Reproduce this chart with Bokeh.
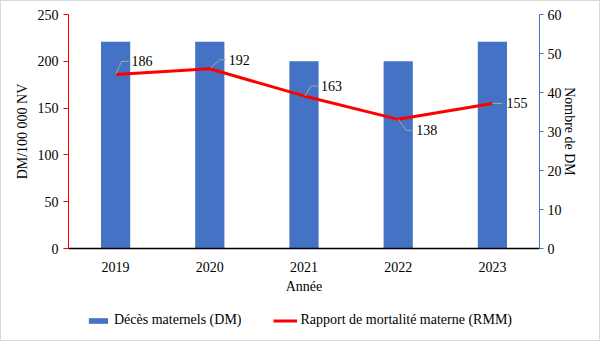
from bokeh.plotting import figure
from bokeh.layouts import column
from bokeh.models import (ColumnDataSource, Range1d, LinearAxis, FixedTicker,
                          Legend, LegendItem)
from bokeh.core.properties import value
from bokeh.embed import file_html
from bokeh.resources import INLINE

# ---- data ----
years = ["2019", "2020", "2021", "2022", "2023"]
deces_maternels = [53, 53, 48, 48, 53]          # Nombre de DM (right axis)
rmm = [186, 192, 163, 138, 155]                 # DM/100 000 NV (left axis)
left_ticks = [0, 50, 100, 150, 200, 250]
right_ticks = [0, 10, 20, 30, 40, 50, 60]
series_names = ["Décès maternels (DM)", "Rapport de mortalité materne (RMM)"]

FONT = "Liberation Serif"
FS = "14px"
BLUE = "#4472C4"
RED = "#FF0000"

xs = list(range(len(years)))
src = ColumnDataSource(dict(x=xs, dm=deces_maternels, rmm=rmm))

W = 598
MB_L, MB_R, MB_T, MB_B = 67, 60, 13, 53
FRAME_H = 234
H_MAIN = MB_T + FRAME_H + MB_B
H_LEG = 339 - H_MAIN

p = figure(width=W, height=H_MAIN, output_backend="svg", toolbar_location=None,
           x_range=Range1d(-0.5, len(years) - 0.5),
           y_range=Range1d(0, 250),
           min_border_left=MB_L, min_border_right=MB_R,
           min_border_top=MB_T, min_border_bottom=MB_B)
p.outline_line_color = None
p.xgrid.visible = False
p.ygrid.visible = False
p.background_fill_color = "white"
p.border_fill_color = "white"

p.extra_y_ranges = {"right": Range1d(0, 60)}

p.vbar(x="x", top="dm", width=0.31, source=src, y_range_name="right",
       fill_color=BLUE, line_color=None)
p.line(x="x", y="rmm", source=src, line_color=RED, line_width=3)

# leader lines + data labels (offsets in pixels, converted to data units)
frame_w = W - MB_L - MB_R
ux = len(years) / frame_w
uy = 250 / FRAME_H
leader_px = [
    [(0, 0), (6, 13), (13, 13)],
    [(1, 1), (10, 9), (16, 9)],
    [(1, 0), (7, 10), (14, 10)],
    [(0, 0), (8, -11), (14, -11)],
    [(0, 0), (10, 0)],
]
label_px = [(16, 13), (19, 9), (17, 10), (18, -11), (14, 0)]
lx, ly = [], []
for i, pts in enumerate(leader_px):
    lx.append([xs[i] + dx * ux for dx, dy in pts])
    ly.append([rmm[i] + dy * uy for dx, dy in pts])
p.multi_line(lx, ly, line_color="#A6A6A6", line_width=1)
p.text(x=[xs[i] + label_px[i][0] * ux for i in range(len(xs))],
       y=[rmm[i] + label_px[i][1] * uy for i in range(len(xs))],
       text=[str(v) for v in rmm],
       text_font=value(FONT), text_font_size=FS, text_color="#000000",
       text_align="left", text_baseline="middle")

# axes
xa = p.xaxis[0]
xa.ticker = FixedTicker(ticks=xs)
xa.major_label_overrides = {i: y for i, y in enumerate(years)}
xa.axis_label = "Année"
xa.axis_line_color = "#000000"
xa.axis_line_width = 1.5
xa.major_tick_line_color = None
xa.minor_tick_line_color = None
xa.major_label_standoff = 7
xa.axis_label_standoff = 4

ya = p.yaxis[0]
ya.ticker = FixedTicker(ticks=left_ticks)
ya.axis_label = "DM/100 000 NV"
ya.axis_line_color = RED
ya.major_tick_line_color = RED
ya.major_tick_out = 5
ya.major_tick_in = 0
ya.minor_tick_line_color = None
ya.major_label_standoff = 5
ya.axis_label_standoff = 5

ra = LinearAxis(y_range_name="right", ticker=FixedTicker(ticks=right_ticks),
                axis_label="Nombre de DM")
ra.axis_line_color = BLUE
ra.major_tick_line_color = BLUE
ra.major_tick_out = 4
ra.major_tick_in = 0
ra.minor_tick_line_color = None
ra.major_label_standoff = 4
ra.axis_label_standoff = -3
p.add_layout(ra, "right")

for ax in (xa, ya, ra):
    ax.major_label_text_font = FONT
    ax.major_label_text_font_size = FS
    ax.major_label_text_color = "#000000"
    ax.axis_label_text_font = FONT
    ax.axis_label_text_font_size = FS
    ax.axis_label_text_font_style = "normal"
    ax.axis_label_text_color = "#000000"

# legend strip (frame aligned with the chart frame)
lg = figure(width=W, height=H_LEG, output_backend="svg", toolbar_location=None,
            x_range=Range1d(0, 1), y_range=Range1d(0, 1),
            x_axis_type=None, y_axis_type=None,
            min_border_left=MB_L, min_border_right=MB_R,
            min_border_top=0, min_border_bottom=0)
lg.grid.visible = False
lg.outline_line_color = None
lg.background_fill_color = "white"
lg.border_fill_color = "white"
# legend proxies (not drawn themselves)
r_bar = lg.vbar(x=[5], top=[1], width=0.3, fill_color=BLUE, line_color=None,
                visible=False)
r_line = lg.line(x=[5, 6], y=[0, 0], line_color=RED, line_width=3,
                 visible=False)
legend = Legend(items=[LegendItem(label=series_names[0], renderers=[r_bar]),
                       LegendItem(label=series_names[1], renderers=[r_line])],
                orientation="horizontal", location=(18, 12),
                label_text_font=FONT, label_text_font_size=FS,
                label_text_color="#000000",
                glyph_width=24, glyph_height=7, spacing=31, label_standoff=4,
                border_line_color=None, background_fill_alpha=0,
                inactive_fill_alpha=0,
                margin=0, padding=0)
lg.add_layout(legend, "center")

layout = column(p, lg, spacing=0)
layout.styles = {"border": "1px solid #D9D9D9"}

open("out.html", "w").write(file_html(layout, INLINE))
